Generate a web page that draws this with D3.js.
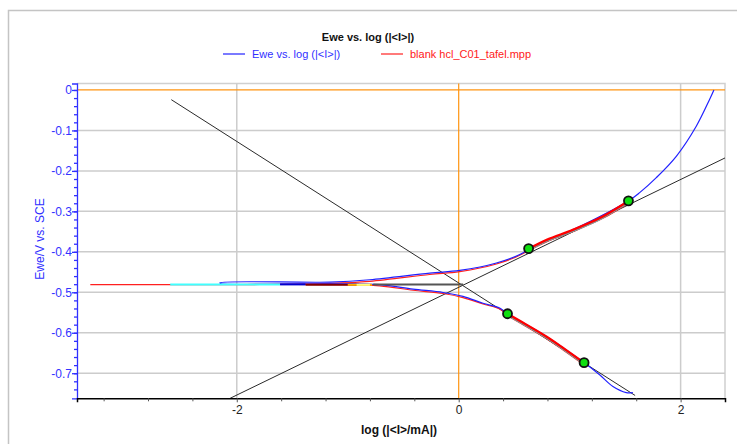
<!DOCTYPE html>
<html>
<head>
<meta charset="utf-8">
<script src="https://cdn.jsdelivr.net/npm/d3@7"></script>
<style>
  body { margin: 0; background: #fff; }
  svg { font-family: "Liberation Sans", Arial, sans-serif; }
</style>
</head>
<body>
<svg width="737" height="444"></svg>
<script>
const svg = d3.select('svg');

// tick labels
var xMajor = [-2, 0, 2];
var xMinor = [-3.2, -2.8, -2.4, -1.6, -1.2, -0.8, -0.4, 0.4, 0.8, 1.2, 1.6];
var yMajor = [0, -0.1, -0.2, -0.3, -0.4, -0.5, -0.6, -0.7];

// Ewe vs. log(|I|) : cathodic branch (right -> left) then anodic branch (left -> right)
var blueX = [1.57, 1.51, 1.39, 1.27, 1.135, 0.79, 0.441, 0.369, 0.219, 0.039, -0.141, -0.412, -0.712, -1.16, -2.15,
             -2.15, -1.16, -0.802, -0.261, 0.009, 0.34, 0.577, 0.631, 1.03, 1.532, 1.631, 1.781, 1.961, 2.141, 2.261, 2.30];
var blueY = [-0.748, -0.748, -0.733, -0.704, -0.675, -0.609, -0.553, -0.539, -0.527, -0.510, -0.5005, -0.492, -0.481, -0.479, -0.478,
             -0.4765, -0.4748, -0.469, -0.4525, -0.446, -0.4277, -0.403, -0.392, -0.345, -0.2735, -0.2537, -0.2166, -0.1639, -0.0896, -0.0235, 0.0];

// blank hcl_C01_tafel.mpp
var redX = [1.135, 0.79, 0.441, 0.369, 0.219, 0.039, -0.141, -0.412, -0.712, -1.16, -2.15, -3.32,
            -2.15, -1.16, -0.802, -0.261, 0.009, 0.34, 0.577, 0.631, 1.03, 1.532];
var redY = [-0.677, -0.611, -0.555, -0.541, -0.529, -0.513, -0.503, -0.495, -0.484, -0.481, -0.481, -0.481,
            -0.481, -0.478, -0.473, -0.456, -0.449, -0.430, -0.405, -0.394, -0.347, -0.2755];

// fitted regions (thick red) between the green markers
var fitAnodicX = [0.631, 0.8, 1.03, 1.3, 1.532];
var fitAnodicY = [-0.394, -0.371, -0.347, -0.314, -0.2755];
var fitCathodicX = [0.441, 0.6, 0.79, 0.95, 1.135];
var fitCathodicY = [-0.555, -0.580, -0.611, -0.641, -0.677];

// small coloured segments near Ecorr
var segColors = ['#40ffff', '#0000d0', '#800000', '#ffb000', '#ffff80', '#555555'];
var segX1 = [-2.60, -1.61, -1.38, -1.0, -0.92, -0.77];
var segX2 = [-1.61, -1.38, -0.90, -0.78, -0.80, 0.04];
var segY = [-0.4807, -0.4805, -0.4812, -0.4815, -0.4815, -0.4805];

// Tafel lines
var tafelX1 = [-2.59, -2.06];
var tafelY1 = [-0.024, -0.762];
var tafelX2 = [1.59, 2.40];
var tafelY2 = [-0.755, -0.168];

// markers
var ptX = [1.53, 0.63, 0.44, 1.13];
var ptY = [-0.274, -0.392, -0.553, -0.674];

var x = d3.scaleLinear().domain([-3.44, 2.40]).range([77, 725]);
var y = d3.scaleLinear().domain([0.016, -0.762]).range([83.5, 398.3]);

// outer frame
svg.append("rect")
    .attr("x", 8.5).attr("y", 10.5)
    .attr("width", 740).attr("height", 440)
    .attr("fill", "none").attr("stroke", "#c4c4c4").attr("stroke-width", 1.5);

// plot border (top, right)
svg.append("path")
    .attr("d", "M77," + 83.5 + "H725V398.3")
    .attr("fill", "none").attr("stroke", "#d0d0d0").attr("stroke-width", 1.5);

// grid
svg.append("g").selectAll("line")
    .data(yMajor.filter(d => d != 0))
    .enter().append("line")
    .attr("x1", 77).attr("x2", 725)
    .attr("y1", d => y(d)).attr("y2", d => y(d))
    .attr("stroke", "#cccccc").attr("stroke-width", 1.5);
svg.append("g").selectAll("line")
    .data(xMajor.filter(d => d != 0))
    .enter().append("line")
    .attr("x1", d => x(d)).attr("x2", d => x(d))
    .attr("y1", 83.5).attr("y2", 398.3)
    .attr("stroke", "#cccccc").attr("stroke-width", 1.5);
svg.append("line")
    .attr("x1", 77).attr("x2", 725).attr("y1", y(0)).attr("y2", y(0))
    .attr("stroke", "#ff9410").attr("stroke-width", 1.2);
svg.append("line")
    .attr("x1", x(0)).attr("x2", x(0)).attr("y1", 83.5).attr("y2", 398.3)
    .attr("stroke", "#ff9410").attr("stroke-width", 1.2);

var line = d3.line().x(d => x(d[0])).y(d => y(d[1])).curve(d3.curveCatmullRom.alpha(0.5));

// tafel lines
svg.append("g").selectAll("line")
    .data(d3.range(tafelX1.length))
    .enter().append("line")
    .attr("x1", i => x(tafelX1[i])).attr("y1", i => y(tafelY1[i]))
    .attr("x2", i => x(tafelX2[i])).attr("y2", i => y(tafelY2[i]))
    .attr("stroke", "#2a2a2a").attr("stroke-width", 1);

// red curve
svg.append("path")
    .datum(d3.zip(redX, redY))
    .attr("d", line)
    .attr("fill", "none").attr("stroke", "#ff2020").attr("stroke-width", 1.2);

// blue curve
svg.append("path")
    .datum(d3.zip(blueX, blueY))
    .attr("d", line)
    .attr("fill", "none").attr("stroke", "#2020ff").attr("stroke-width", 1.2);

// coloured segments
svg.append("g").selectAll("line")
    .data(d3.range(segX1.length))
    .enter().append("line")
    .attr("x1", i => x(segX1[i])).attr("x2", i => x(segX2[i]))
    .attr("y1", i => y(segY[i])).attr("y2", i => y(segY[i]))
    .attr("stroke", i => segColors[i]).attr("stroke-width", 2);

// fitted regions
[[fitAnodicX, fitAnodicY], [fitCathodicX, fitCathodicY]].forEach(function(f){
    svg.append("path")
        .datum(d3.zip(f[0], f[1]))
        .attr("d", line)
        .attr("fill", "none").attr("stroke", "#ff0000").attr("stroke-width", 3.5);
    svg.append("path")
        .datum(d3.zip(f[0], f[1].map(v => v - 0.003)))
        .attr("d", line)
        .attr("fill", "none").attr("stroke", "#40e0e0").attr("stroke-width", 0.8);
});

// markers
svg.append("g").selectAll("circle")
    .data(d3.range(ptX.length))
    .enter().append("circle")
    .attr("cx", i => x(ptX[i])).attr("cy", i => y(ptY[i]))
    .attr("r", 4.5)
    .attr("fill", "#10e010").attr("stroke", "#111").attr("stroke-width", 1.8);

// y axis
var yAxis = svg.append("g")
    .attr("transform", "translate(77,0)")
    .call(d3.axisLeft(y).tickValues(yMajor).tickSize(5).tickFormat(d => String(+d.toFixed(1))));
svg.append("g")
    .attr("transform", "translate(77,0)")
    .call(d3.axisLeft(y).tickValues(d3.range(0, 38).map(i => -i * 0.02)).tickSize(3).tickFormat(""))
    .select(".domain").remove();
svg.selectAll("g").filter(function(){ return this.getAttribute("transform") == "translate(77,0)"; })
    .selectAll("line, path").attr("stroke", "#3030ff").attr("stroke-width", 1.3);
yAxis.selectAll("text").attr("fill", "#3333ff").attr("font-size", 12)
    .attr("font-family", "Liberation Sans, Arial, sans-serif").attr("x", -5);

// x axis
var xAxis = svg.append("g")
    .attr("transform", "translate(0,398.3)")
    .call(d3.axisBottom(x).tickValues(xMajor).tickSize(4).tickFormat(d => String(d)));
svg.append("g")
    .attr("transform", "translate(0,398.3)")
    .call(d3.axisBottom(x).tickValues(xMinor).tickSize(3).tickFormat(""))
    .select(".domain").remove();
xAxis.select(".domain").attr("stroke", "#000").attr("stroke-width", 1.5);
svg.selectAll("g").filter(function(){ return this.getAttribute("transform") == "translate(0,398.3)"; })
    .selectAll(".tick line").attr("stroke", "#555");
xAxis.selectAll("text").attr("fill", "#222").attr("font-size", 12)
    .attr("font-family", "Liberation Sans, Arial, sans-serif").attr("y", 7);

// title
svg.append("text")
    .attr("x", 368).attr("y", 41)
    .attr("text-anchor", "middle")
    .attr("font-size", 11).attr("font-weight", "bold").attr("fill", "#111")
    .text("Ewe vs. log (|<I>|)");

// legend
svg.append("line").attr("x1", 223).attr("x2", 245).attr("y1", 54).attr("y2", 54)
    .attr("stroke", "#2020ff").attr("stroke-width", 1.2);
svg.append("text").attr("x", 252).attr("y", 58).attr("font-size", 11).attr("fill", "#3030ff")
    .text("Ewe vs. log (|<I>|)");
svg.append("line").attr("x1", 381).attr("x2", 403).attr("y1", 54).attr("y2", 54)
    .attr("stroke", "#ff2020").attr("stroke-width", 1.2);
svg.append("text").attr("x", 410).attr("y", 58).attr("font-size", 11).attr("fill", "#ff2020")
    .text("blank hcl_C01_tafel.mpp");

// axis titles
svg.append("text")
    .attr("transform", "translate(44,239) rotate(-90)")
    .attr("text-anchor", "middle")
    .attr("font-size", 12).attr("fill", "#3030ff")
    .text("Ewe/V vs. SCE");
svg.append("text")
    .attr("x", 399).attr("y", 434)
    .attr("text-anchor", "middle")
    .attr("font-size", 12).attr("font-weight", "bold").attr("fill", "#111")
    .text("log (|<I>/mA|)");
</script>
</body>
</html>
